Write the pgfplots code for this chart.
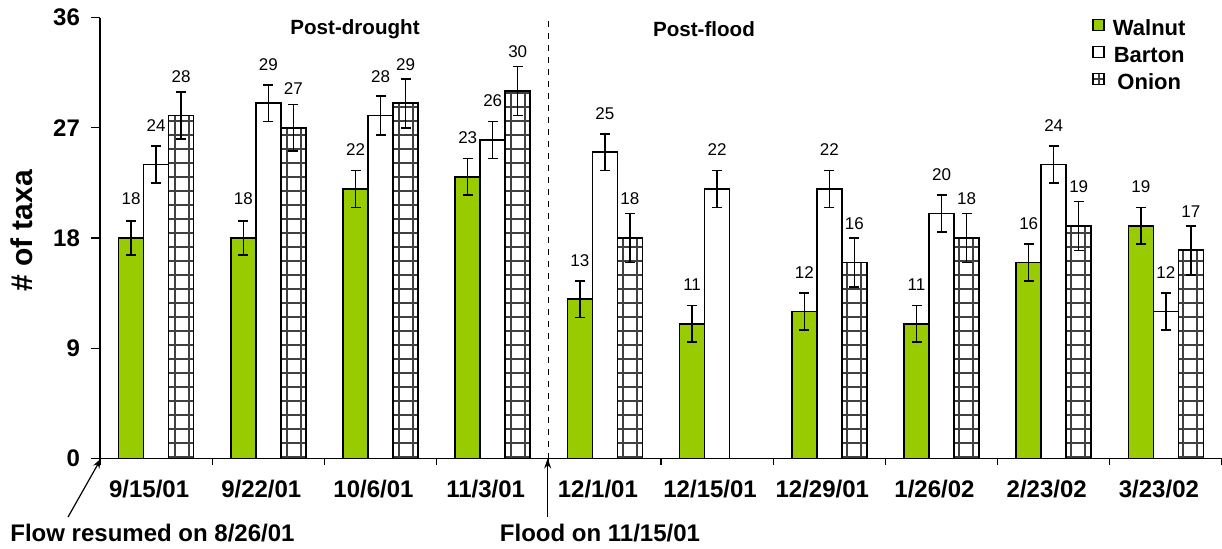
\documentclass[border=0pt]{standalone}
\usepackage{fontspec}
\setmainfont{Liberation Sans}
\usepackage{pgfplots}
\pgfplotsset{compat=1.18}
\usetikzlibrary{patterns, arrows.meta}
\definecolor{walnut}{HTML}{99CC00}
\pgfdeclarepatternformonly{onionpat}{\pgfpoint{-0.5pt}{-0.5pt}}{\pgfpoint{7.5pt}{7.5pt}}{\pgfpoint{7pt}{7pt}}{%
 \pgfsetlinewidth{1.1pt}%
 \pgfpathmoveto{\pgfpoint{-0.5pt}{3.5pt}}\pgfpathlineto{\pgfpoint{7.5pt}{3.5pt}}%
 \pgfpathmoveto{\pgfpoint{3.5pt}{-0.5pt}}\pgfpathlineto{\pgfpoint{3.5pt}{7.5pt}}%
 \pgfusepath{stroke}%
}
\begin{document}
\begin{tikzpicture}
\path[use as bounding box] (-50pt,-44.75pt) rectangle (561pt,229.25pt);
\begin{axis}[
 at={(0,0)}, anchor=south west,
 scale only axis, width=561pt, height=220.5pt,
 ybar=0pt, bar width=12.5pt,
 xmin=-0.5, xmax=9.5, ymin=0, ymax=36,
 axis x line*=bottom, axis y line*=left,
 axis line style={line width=0.6pt},
 ytick={0,9,18,27,36},
 xtick={0,...,9},
 xticklabels={9/15/01,9/22/01,10/6/01,11/3/01,12/1/01,12/15/01,12/29/01,1/26/02,2/23/02,3/23/02},
 minor xtick={-0.5,0.5,1.5,2.5,3.5,4.5,5.5,6.5,7.5,8.5,9.5},
 tick align=outside, major tick length=4.5pt, minor tick length=3pt,
 tick style={black, line width=0.6pt},
 major x tick style={draw=none},
 ticklabel style={font=\fontsize{12}{14}\selectfont\bfseries},
 xticklabel style={yshift=-3pt, xshift=-3.5pt},
 yticklabel style={xshift=-2pt},
 /pgf/number format/assume math mode=true,
 every axis y label/.style={at={(axis description cs:-0.07,0.516)}, rotate=90, anchor=center, font=\fontsize{15}{18}\selectfont\bfseries},
 ylabel={\# of taxa},
 clip=false,
 nodes near coords,
 every node near coord/.append style={black, font=\fontsize{8.5}{10}\selectfont, anchor=center, yshift=19.5pt},
 legend style={at={(rel axis cs:0.884,1.0)}, anchor=north west, draw=none, fill=none,
   font=\fontsize{11}{13}\selectfont\bfseries, row sep=2.2pt, inner sep=0pt,
   nodes={inner sep=1pt},
   /tikz/every odd column/.append style={column sep=3pt}},
 legend image code/.code={\draw[#1] (0pt,-0.6pt) rectangle (5.5pt,4.9pt);},
 error bars/error bar style={line width=0.75pt, black},
 error bars/error mark options={rotate=90, mark size=2.5pt, line width=0.75pt, black},
]
\addplot[draw=black, line width=0.85pt, fill=walnut,
  error bars/.cd, y dir=both, y explicit] coordinates {
 (0,18) +- (0,1.4) (1,18) +- (0,1.4) (2,22) +- (0,1.5) (3,23) +- (0,1.5) (4,13) +- (0,1.5)
 (5,11) +- (0,1.5) (6,12) +- (0,1.5) (7,11) +- (0,1.5) (8,16) +- (0,1.5) (9,19) +- (0,1.5)};
\addlegendentry{Walnut}
\addplot[draw=black, line width=0.85pt, fill=white,
  error bars/.cd, y dir=both, y explicit] coordinates {
 (0,24) +- (0,1.5) (1,29) +- (0,1.5) (2,28) +- (0,1.6) (3,26) +- (0,1.5) (4,25) +- (0,1.5)
 (5,22) +- (0,1.5) (6,22) +- (0,1.5) (7,20) +- (0,1.5) (8,24) +- (0,1.5) (9,12) +- (0,1.5)};
\addlegendentry{Barton}
\addplot[draw=black, line width=0.85pt, pattern=onionpat, pattern color=black!75,
  error bars/.cd, y dir=both, y explicit] coordinates {
 (0,28) +- (0,1.9) (1,27) +- (0,1.9) (2,29) +- (0,2.0) (3,30) +- (0,2.0) (4,18) +- (0,2.0)
 (6,16) +- (0,2.0) (7,18) +- (0,2.0) (8,19) +- (0,2.0) (9,17) +- (0,2.0)};
\addlegendentry{Onion}
\draw[dash pattern=on 3pt off 3pt, line width=0.5pt] (axis cs:3.5,0) -- (axis cs:3.5,36);
\node[font=\fontsize{10.3}{12}\selectfont\bfseries] at (axis cs:1.773,35.06) {Post-drought};
\node[font=\fontsize{10.3}{12}\selectfont\bfseries] at (axis cs:4.883,35.06) {Post-flood};
\draw[-{Stealth[length=5pt,width=3.5pt]}, line width=0.6pt] (axis cs:-0.785,-4.78) -- (axis cs:-0.49,0);
\node[anchor=west, inner sep=0pt, font=\fontsize{12}{14}\selectfont\bfseries] at (axis cs:-1.302,-6.08) {Flow resumed on 8/26/01};
\draw[-{Stealth[length=5pt,width=3.5pt]}, line width=0.6pt] (axis cs:3.49,-4.78) -- (axis cs:3.49,0);
\node[inner sep=0pt, font=\fontsize{12}{14}\selectfont\bfseries] at (axis cs:3.956,-6.08) {Flood on 11/15/01};
\end{axis}
\end{tikzpicture}
\end{document}
